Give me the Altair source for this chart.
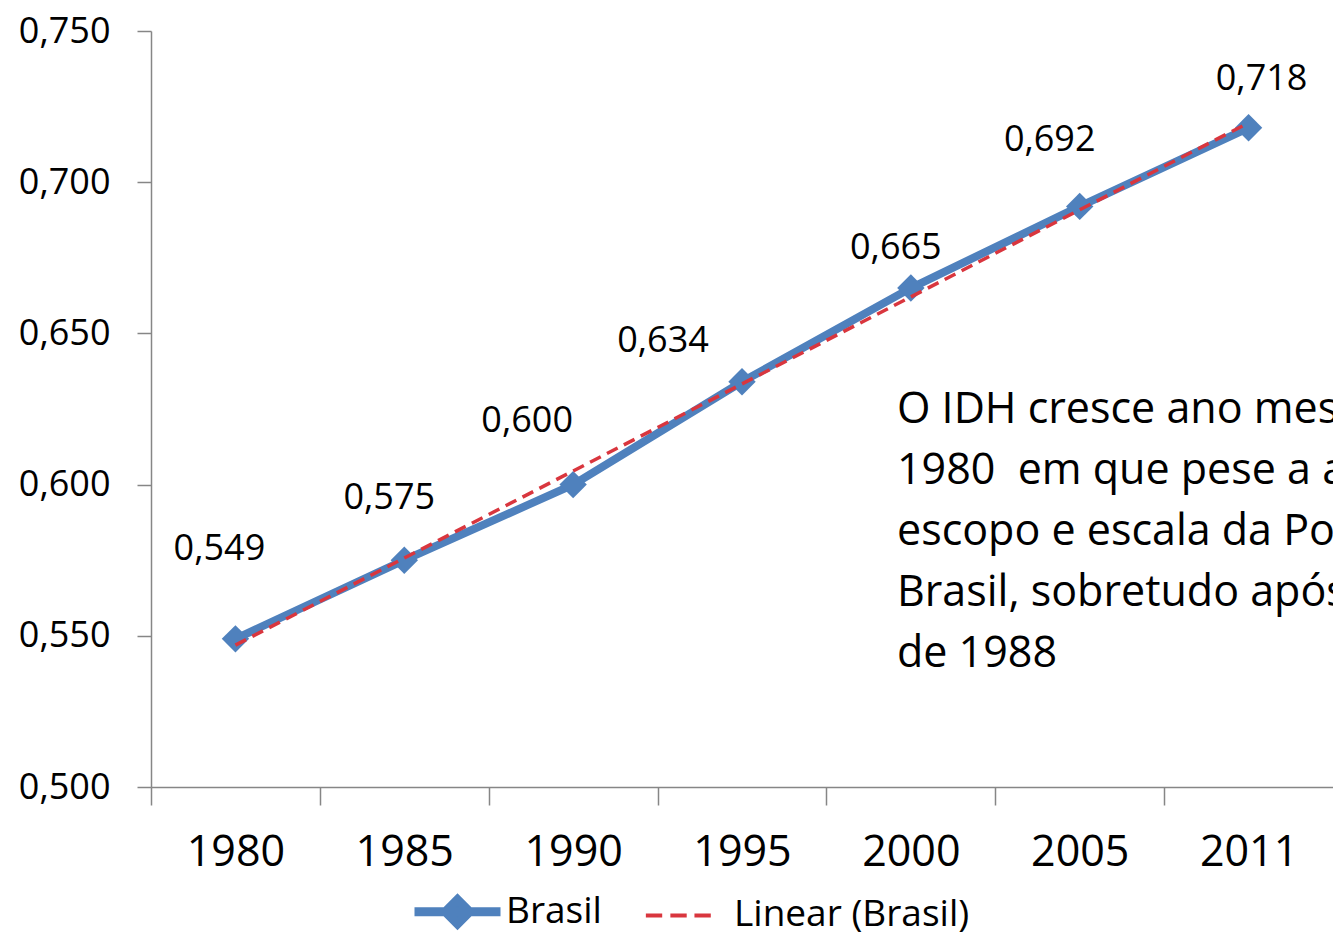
import altair as alt
import pandas as pd

years = ["1980", "1985", "1990", "1995", "2000", "2005", "2011"]
idh = [0.549, 0.575, 0.600, 0.634, 0.665, 0.692, 0.718]
y_ticks = [0.500, 0.550, 0.600, 0.650, 0.700, 0.750]
series = ["Brasil", "Linear (Brasil)"]
annotation_lines = [
    "O IDH cresce ano mes",
    "1980\u00a0 em que pese a a",
    "escopo e escala da Po",
    "Brasil, sobretudo após",
    "de 1988",
]

# label offsets (px) relative to each point, as placed in the original
label_offsets = {
    "1980": (-16, -90), "1985": (-15, -62), "1990": (-46, -64),
    "1995": (-79, -41), "2000": (-15, -40), "2005": (-30, -66),
    "2011": (13, -49),
}

BLUE = "#4F81BD"
RED = "#D9363E"
AXIS = "#868686"
FONT = "Open Sans"

W = 1182
H = 756
STEP = W / len(years)

df = pd.DataFrame({"year": years, "idh": idh, "idx": list(range(1, len(years) + 1))})

x_enc = alt.X(
    "year:O",
    scale=alt.Scale(type="point", domain=years, padding=0.5),
    axis=alt.Axis(
        title=None, tickOffset=-STEP / 2, labelOffset=STEP / 2, tickSize=18, labelPadding=26,
        labelFontSize=43, labelFont=FONT, labelColor="#000", labelAngle=0,
        domainColor=AXIS, tickColor=AXIS, domainWidth=1.5, tickWidth=1.5,
    ),
)
y_enc = alt.Y(
    "idh:Q",
    scale=alt.Scale(domain=[0.5, 0.75], nice=False, zero=False),
    axis=alt.Axis(
        title=None, values=y_ticks, grid=False, tickSize=14, labelPadding=27,
        labelExpr="replace(format(datum.value, '.3f'), '.', ',')",
        labelFontSize=36, labelFont=FONT, labelColor="#000",
        domainColor=AXIS, tickColor=AXIS, domainWidth=1.5, tickWidth=1.5,
    ),
)

base = alt.Chart(df).encode(x=x_enc, y=y_enc)

line = base.mark_line(color=BLUE, strokeWidth=8)
points = base.mark_point(shape="diamond", filled=True, size=750, color=BLUE, opacity=1)

year_array = "[" + ",".join(f"'{y}'" for y in years) + "]"
trend = (
    base.transform_regression("idx", "idh", extent=[1, len(years)])
    .transform_calculate(year=f"{year_array}[datum.idx - 1]")
    .mark_line(color=RED, strokeWidth=3.5, strokeDash=[12, 7])
)

label_layers = []
for yr, (dx, dy) in label_offsets.items():
    label_layers.append(
        base.transform_filter(f"datum.year == '{yr}'")
        .transform_calculate(lbl="replace(format(datum.idh, '.3f'), '.', ',')")
        .mark_text(dx=dx, dy=dy, fontSize=36, font=FONT, color="#000",
                   align="center", baseline="middle")
        .encode(text="lbl:N")
    )

annot = alt.Chart(pd.DataFrame({"t": ["\n".join(annotation_lines)]})).mark_text(
    align="left", baseline="alphabetic", fontSize=43, font=FONT, color="#000",
    lineBreak="\n", lineHeight=61, clip=True,
).encode(x=alt.value(746), y=alt.value(392), text="t:N")

brasil_path = "M-1,0H1M0,-0.28L0.28,0L0,0.28L-0.28,0Z"
dash_path = "M0,-0.28M0,0.28M-0.98,0H-0.6M-0.41,0H-0.03M0.15,0H0.53"

legend_layer = (
    alt.Chart(pd.DataFrame({"series": series}))
    .transform_filter("false")
    .mark_point(opacity=1, filled=False)
    .encode(
        color=alt.Color(
            "series:N",
            scale=alt.Scale(domain=series, range=[BLUE, RED]),
            legend=alt.Legend(
                title=None, orient="none", legendX=259, legendY=833,
                direction="horizontal", symbolSize=7396,
                labelFontSize=37, labelFont=FONT, labelColor="#000", labelLimit=500,
                columnPadding=35, labelOffset=1, symbolOpacity=1,
            ),
        ),
        fill=alt.Fill("series:N", scale=alt.Scale(domain=series, range=[BLUE, RED])),
        shape=alt.Shape("series:N", scale=alt.Scale(domain=series, range=[brasil_path, dash_path])),
        strokeWidth=alt.StrokeWidth("series:N", scale=alt.Scale(domain=series, range=[9, 4])),
    )
)

chart = (
    alt.layer(line, points, trend, *label_layers, annot, legend_layer)
    .properties(
        width=W, height=H,
        padding={"left": 143, "top": 23, "right": 0, "bottom": 151},
        autosize=alt.AutoSizeParams(type="none"),
        background="white",
    )
    .configure_view(stroke=None)
)

chart.save("out.html", embed_options={"renderer": "svg", "actions": False})
